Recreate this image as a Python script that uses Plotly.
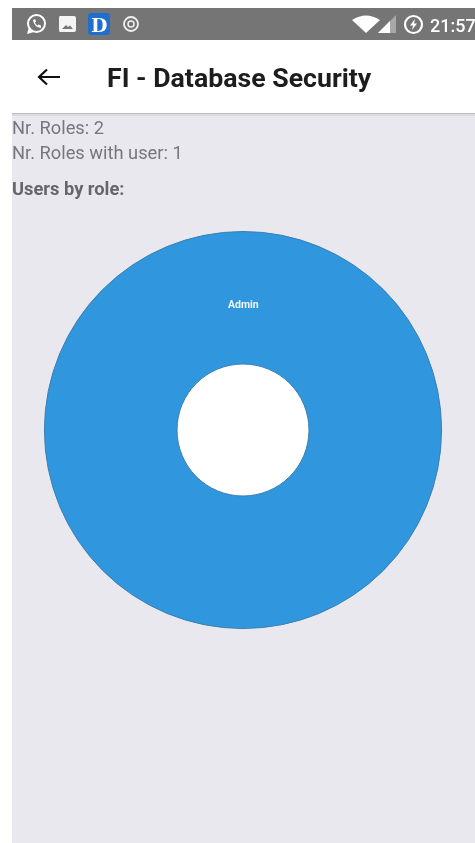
import plotly.graph_objects as go

# Users per role
role_names = ["Admin"]
role_users = [1]

title_text = "FI - Database Security"
summary_lines = [("Nr. Roles: 2", 127), ("Nr. Roles with user: 1", 152)]
section_heading = "Users by role:"
clock_text = "21:57"

W, H = 475, 843
PIE_LEFT, PIE_RIGHT, PIE_TOP, PIE_BOTTOM = 44.5, 441.5, 231.5, 628.5

shapes = [
    # screen regions
    dict(type="rect", x0=12, x1=W, y0=114, y1=H, fillcolor="#e9e8ee", line_width=0, layer="below"),
    dict(type="rect", x0=12, x1=W, y0=8, y1=40, fillcolor="#757575", line_width=0, layer="below"),
    dict(type="rect", x0=12, x1=W, y0=113, y1=114, fillcolor="#bdbdc0", line_width=0, layer="below"),
    dict(type="rect", x0=12, x1=W, y0=114, y1=116, fillcolor="#dcdbe0", line_width=0, layer="below"),
    # white disc showing through the donut hole
    dict(type="circle", x0=175, x1=311, y0=362, y1=498, fillcolor="#ffffff", line_width=0, layer="below"),
    # back arrow
    dict(type="path", path="M 39 77 L 60 77 M 47 69.5 L 39 77 L 47 84.5",
         line=dict(color="#111111", width=2.2)),
    # chat notification icon
    dict(type="circle", x0=28, x1=45, y0=15, y1=32, line=dict(color="#ffffff", width=2)),
    dict(type="path", path="M 27 34 L 29 27 L 34 32 Z", fillcolor="#ffffff", line_width=0),
    dict(type="path", path="M 33 20 Q 34 27 41 28 L 41 25.5 L 38.5 24.5 L 37.5 25.5 Q 35.5 24.5 35 22.5 L 36 21.5 L 35 19 Z",
         fillcolor="#ffffff", line_width=0),
    # gallery icon
    dict(type="path", path="M 60 16 L 74 16 Q 76 16 76 18 L 76 30 Q 76 32 74 32 L 60 32 Q 59 32 59 30 L 59 18 Q 59 16 60 16 Z",
         fillcolor="#f4f4f4", line_width=0),
    dict(type="path", path="M 62 29 L 66 25 L 68 27 L 70 25.5 L 73 29 Z", fillcolor="#757575", line_width=0),
    # blue app badge
    dict(type="path", path="M 91 13 L 107 13 Q 110 13 110 16 L 110 32 Q 110 35 107 35 L 91 35 Q 88 35 88 32 L 88 16 Q 88 13 91 13 Z",
         fillcolor="#1e6fd0", line_width=0),
    # recording indicator
    dict(type="circle", x0=124, x1=138, y0=17, y1=31, line=dict(color="#f0f0f0", width=1.8)),
    dict(type="circle", x0=128, x1=134, y0=21, y1=27, line=dict(color="#f0f0f0", width=1.5)),
    # wifi and signal
    dict(type="path", path="M 352 20 Q 366 11 380 20 L 366 33 Z", fillcolor="#ffffff", line_width=0),
    dict(type="path", path="M 396 15 L 396 33 L 378 33 Z", fillcolor="#a8a8a8", line_width=0),
    dict(type="path", path="M 390 21 L 390 33 L 378 33 Z", fillcolor="#ffffff", line_width=0),
    # charging indicator
    dict(type="circle", x0=405, x1=422, y0=16, y1=33, line=dict(color="#ffffff", width=2.2)),
    dict(type="path", path="M 415 19 L 410 25.5 L 413 25.5 L 412 30 L 417 23.5 L 414 23.5 Z",
         fillcolor="#ffffff", line_width=0),
]


def label(text, x, y, size, color, weight=400, family="Roboto", anchor="left"):
    return dict(text=text, x=x, y=y, xref="x", yref="y", xanchor=anchor, yanchor="middle",
                showarrow=False, align="left", borderpad=0, borderwidth=0,
                font=dict(family=family, size=size, color=color, weight=weight))


annotations = [
    label(title_text, 107, 78, 26.7, "#1d1d1f", 700),
    label(section_heading, 12, 188, 18.3, "#66666a", 700),
    label(clock_text, 430, 25, 18, "#ffffff", 500),
    label("D", 99, 25, 19, "#ffffff", 700, family="DejaVu Serif", anchor="center"),
    # slice name sits on the upper part of the ring
    label(role_names[0], 243, 304, 10.5, "#eef5fb", 700, anchor="center"),
]
annotations += [label(t, 12, y, 18.3, "#77777b") for t, y in summary_lines]

fig = go.Figure()
# hidden pixel-scale axes carry the screen furniture
fig.add_trace(go.Scatter(x=[0, W], y=[0, H], mode="markers", opacity=0, hoverinfo="skip", showlegend=False))
fig.add_trace(go.Pie(
    labels=role_names,
    values=role_users,
    hole=66 / 198.5,
    sort=False,
    rotation=180,
    textinfo="none",
    marker=dict(colors=["#3097de"], line=dict(color="#3c7fb0", width=1)),
    domain=dict(x=[PIE_LEFT / W, PIE_RIGHT / W], y=[1 - PIE_BOTTOM / H, 1 - PIE_TOP / H]),
    showlegend=False,
))
fig.update_layout(
    width=W, height=H,
    margin=dict(l=0, r=0, t=0, b=0),
    paper_bgcolor="#ffffff",
    plot_bgcolor="rgba(0,0,0,0)",
    xaxis=dict(range=[0, W], visible=False, domain=[0, 1], fixedrange=True),
    yaxis=dict(range=[H, 0], visible=False, domain=[0, 1], fixedrange=True),
    shapes=shapes,
    annotations=annotations,
)
fig.write_html("out.html", config=dict(displayModeBar=False))
